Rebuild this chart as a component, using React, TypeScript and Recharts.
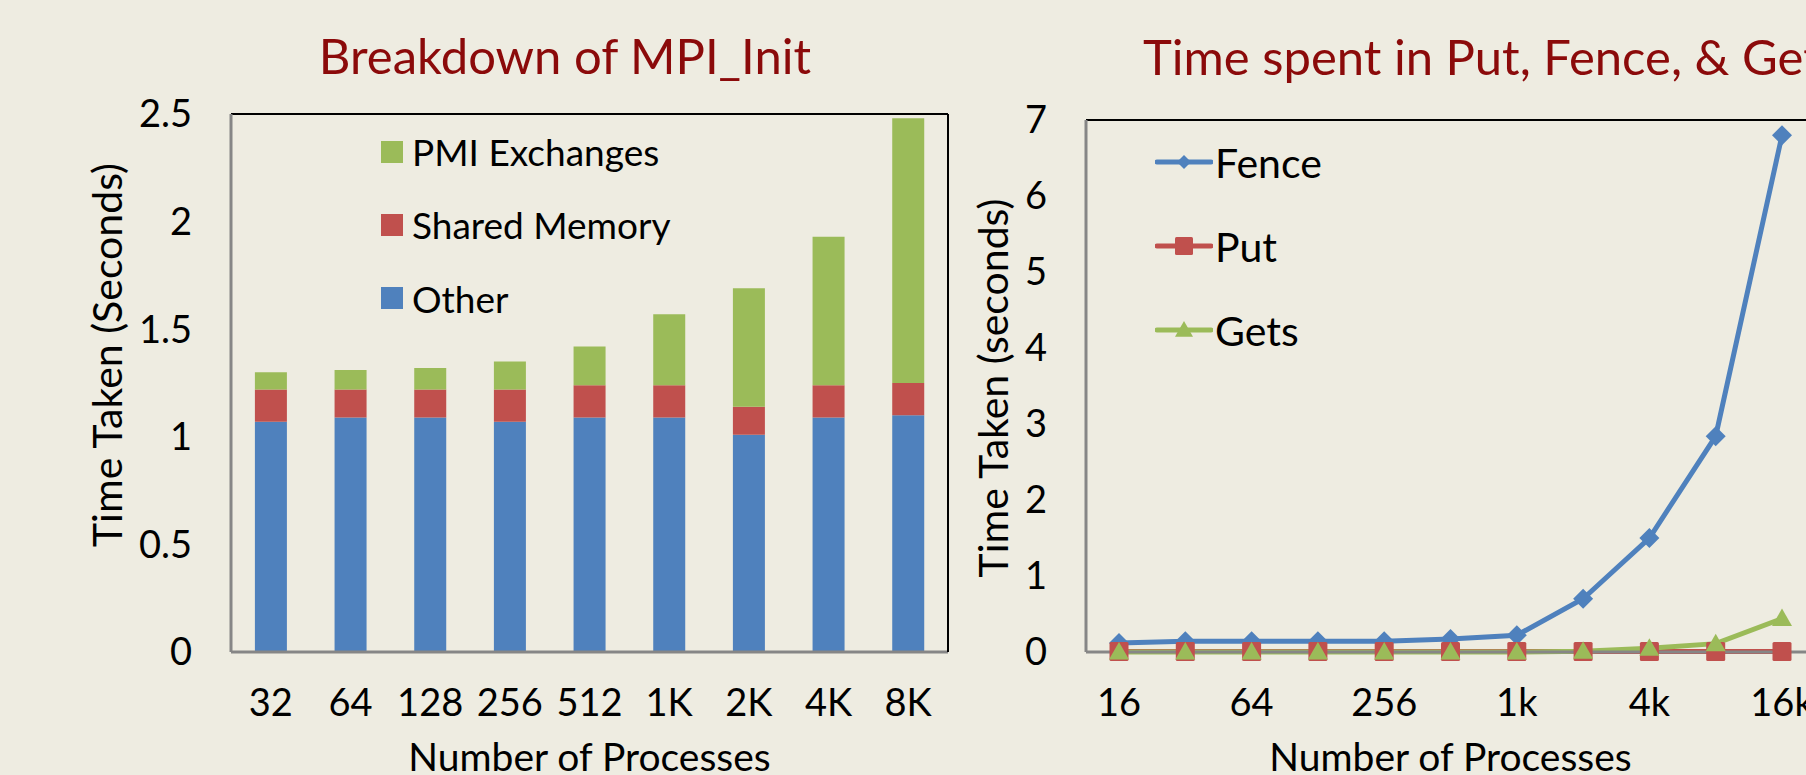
import React from 'react';
import { BarChart, Bar, LineChart, Line, XAxis, YAxis, ReferenceLine, Legend, Label } from 'recharts';

// left chart: MPI_Init breakdown (stacked)
const initProcs = ['32', '64', '128', '256', '512', '1K', '2K', '4K', '8K'];
const otherTime = [1.07, 1.09, 1.09, 1.07, 1.09, 1.09, 1.01, 1.09, 1.10];
const sharedMem = [0.15, 0.13, 0.13, 0.15, 0.15, 0.15, 0.13, 0.15, 0.15];
const pmiExch = [0.08, 0.09, 0.10, 0.13, 0.18, 0.33, 0.55, 0.69, 1.23];
const initTicks = [0, 0.5, 1, 1.5, 2, 2.5];

// right chart: Put / Fence / Gets
const rmaProcs = ['16', '32', '64', '128', '256', '512', '1k', '2k', '4k', '8k', '16k'];
const fenceTime = [0.12, 0.14, 0.14, 0.14, 0.14, 0.17, 0.22, 0.70, 1.50, 2.84, 6.80];
const putTime = [0.005, 0.005, 0.005, 0.005, 0.005, 0.005, 0.005, 0.005, 0.008, 0.005, 0.008];
const getsTime = [0, 0, 0, 0, 0, 0, 0, 0.01, 0.05, 0.11, 0.44];
const rmaTicks = [0, 1, 2, 3, 4, 5, 6, 7];

const BLUE = '#4F81BD';
const RED = '#C0504D';
const GREEN = '#9BBB59';
const AXIS_GRAY = '#868686';
const BG = '#EEECE1';
const TITLE_RED = '#8B0A0A';
const FONT = 'Lato, "Open Sans", sans-serif';

const initData = initProcs.map((p, i) => ({
  procs: p,
  other: otherTime[i],
  shared: sharedMem[i],
  pmi: pmiExch[i],
}));

const rmaData = rmaProcs.map((p, i) => ({
  procs: p,
  fence: fenceTime[i],
  put: putTime[i],
  gets: getsTime[i],
}));

const barLegend = [
  { name: 'PMI Exchanges', color: GREEN },
  { name: 'Shared Memory', color: RED },
  { name: 'Other', color: BLUE },
];

const lineLegend = [
  { name: 'Fence', color: BLUE, marker: 'diamond' },
  { name: 'Put', color: RED, marker: 'square' },
  { name: 'Gets', color: GREEN, marker: 'triangle' },
];

const markerShape = (kind: string, cx: number, cy: number, color: string, s: number, key?: string) => {
  if (kind === 'diamond') {
    return <polygon key={key} points={`${cx},${cy - s} ${cx + s},${cy} ${cx},${cy + s} ${cx - s},${cy}`} fill={color} />;
  }
  if (kind === 'square') {
    return <rect key={key} x={cx - s} y={cy - s} width={s * 2} height={s * 2} rx={1.5} fill={color} />;
  }
  return <polygon key={key} points={`${cx},${cy - s} ${cx + s},${cy + s * 0.75} ${cx - s},${cy + s * 0.75}`} fill={color} />;
};

const dotFor = (kind: string, color: string, s: number) => (props: any) => {
  const { cx, cy, index } = props;
  if (cx == null || cy == null) return <g key={`e-${kind}-${index}`} />;
  return markerShape(kind, cx, cy, color, s, `${kind}-${index}`);
};

const BarLegendContent = () => (
  <div style={{ fontFamily: FONT, fontSize: 37, color: '#000' }}>
    {barLegend.map((item) => (
      <div key={item.name} style={{ display: 'flex', alignItems: 'center', height: 73.3 }}>
        <div style={{ width: 22, height: 22, background: item.color }} />
        <span style={{ marginLeft: 9, whiteSpace: 'nowrap' }}>{item.name}</span>
      </div>
    ))}
  </div>
);

const LineLegendContent = () => (
  <div style={{ fontFamily: FONT, fontSize: 41, color: '#000' }}>
    {lineLegend.map((item) => (
      <div key={item.name} style={{ display: 'flex', alignItems: 'center', height: 84 }}>
        <svg width={58} height={22}>
          <line x1={2} y1={11} x2={56} y2={11} stroke={item.color} strokeWidth={5} strokeLinecap="round" />
          {markerShape(item.marker, 29, 11, item.color, item.marker === 'diamond' ? 7 : 9)}
        </svg>
        <span style={{ marginLeft: 2, whiteSpace: 'nowrap' }}>{item.name}</span>
      </div>
    ))}
  </div>
);

const tickStyle = { fill: '#000', fontSize: 38, fontFamily: FONT };
const xTitleStyle = { fontSize: 39, fontFamily: FONT, fill: '#000' };
const yTitleStyle = { fontSize: 41, fontFamily: FONT, fill: '#000', textAnchor: 'middle' as const };

const App: React.FC = () => {
  return (
    <div
      style={{
        position: 'fixed',
        left: 0,
        top: 0,
        width: 1806,
        height: 775,
        overflow: 'hidden',
        background: BG,
        fontFamily: FONT,
      }}
    >
      <div
        style={{
          position: 'absolute',
          left: 85,
          top: 31,
          width: 960,
          textAlign: 'center',
          fontSize: 49,
          lineHeight: '48px',
          color: TITLE_RED,
          whiteSpace: 'nowrap',
        }}
      >
        Breakdown of MPI_Init
      </div>
      <div
        style={{
          position: 'absolute',
          left: 1143,
          top: 32,
          fontSize: 49,
          lineHeight: '48px',
          color: TITLE_RED,
          whiteSpace: 'nowrap',
        }}
      >
        Time spent in Put, Fence, &amp; Gets
      </div>

      <div style={{ position: 'absolute', left: 0, top: 0 }}>
        <BarChart
          width={960}
          height={775}
          data={initData}
          margin={{ top: 114, right: 0, bottom: 0, left: 0 }}
          barCategoryGap="30%"
        >
          <ReferenceLine y={2.5} stroke="#000" strokeWidth={2} />
          <XAxis
            dataKey="procs"
            height={123}
            tickLine={false}
            tickSize={0}
            tickMargin={37}
            axisLine={{ stroke: AXIS_GRAY, strokeWidth: 3 }}
            tick={tickStyle}
            interval={0}
          >
            <Label value="Number of Processes" position="insideBottom" offset={4} style={xTitleStyle} />
          </XAxis>
          <YAxis
            width={231}
            domain={[0, 2.5]}
            ticks={initTicks}
            tickLine={false}
            tickSize={0}
            tickMargin={39}
            axisLine={{ stroke: AXIS_GRAY, strokeWidth: 3 }}
            tick={tickStyle}
          >
            <Label value="Time Taken (Seconds)" angle={-90} position="center" dx={-8} dy={-28} style={yTitleStyle} />
          </YAxis>
          <YAxis
            yAxisId="rightEdge"
            orientation="right"
            width={12}
            domain={[0, 2.5]}
            tick={false}
            tickLine={false}
            axisLine={{ stroke: '#000', strokeWidth: 2 }}
          />
          <Bar dataKey="other" stackId="a" fill={BLUE} isAnimationActive={false} />
          <Bar dataKey="shared" stackId="a" fill={RED} isAnimationActive={false} />
          <Bar dataKey="pmi" stackId="a" fill={GREEN} isAnimationActive={false} />
          <Legend
            layout="vertical"
            align="center"
            verticalAlign="middle"
            content={() => <BarLegendContent />}
            wrapperStyle={{ left: 381, top: 115, width: 'auto' }}
          />
        </BarChart>
      </div>

      <div style={{ position: 'absolute', left: 960, top: 0 }}>
        <LineChart
          width={880}
          height={775}
          data={rmaData}
          margin={{ top: 120, right: 25, bottom: 0, left: 0 }}
        >
          <ReferenceLine y={7} stroke="#000" strokeWidth={2} />
          <XAxis
            dataKey="procs"
            height={123}
            padding={{ left: 33, right: 33 }}
            tickLine={false}
            tickSize={0}
            tickMargin={37}
            axisLine={{ stroke: AXIS_GRAY, strokeWidth: 3 }}
            tick={tickStyle}
            interval={1}
          >
            <Label value="Number of Processes" position="insideBottom" offset={4} style={xTitleStyle} />
          </XAxis>
          <YAxis
            width={126}
            domain={[0, 7]}
            ticks={rmaTicks}
            tickLine={false}
            tickSize={0}
            tickMargin={39}
            axisLine={{ stroke: AXIS_GRAY, strokeWidth: 3 }}
            tick={tickStyle}
          >
            <Label value="Time Taken (seconds)" angle={-90} position="center" dx={-30} dy={2} style={yTitleStyle} />
          </YAxis>
          <Line
            dataKey="fence"
            stroke={BLUE}
            strokeWidth={5}
            dot={dotFor('diamond', BLUE, 10)}
            activeDot={false}
            isAnimationActive={false}
          />
          <Line
            dataKey="put"
            stroke={RED}
            strokeWidth={5}
            dot={dotFor('square', RED, 9.5)}
            activeDot={false}
            isAnimationActive={false}
          />
          <Line
            dataKey="gets"
            stroke={GREEN}
            strokeWidth={5}
            dot={dotFor('triangle', GREEN, 10)}
            activeDot={false}
            isAnimationActive={false}
          />
          <Legend
            layout="vertical"
            align="center"
            verticalAlign="middle"
            content={() => <LineLegendContent />}
            wrapperStyle={{ left: 195, top: 120, width: 'auto' }}
          />
        </LineChart>
      </div>
    </div>
  );
};

export default App;
